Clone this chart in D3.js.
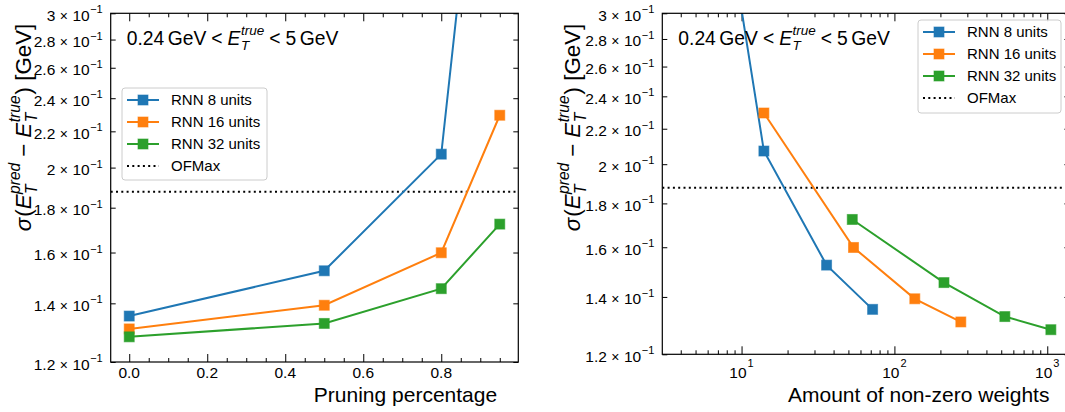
<!DOCTYPE html>
<html><head><meta charset="utf-8">
<script src="https://cdn.jsdelivr.net/npm/d3@7"></script>
<style>
body{margin:0;background:#fff;}
svg{display:block;}
text{font-family:"Liberation Sans",Arial,Helvetica,sans-serif;white-space:pre;}
</style>
</head><body>
<svg id="c" width="1065" height="412"></svg>
<script>
// ---- data ----
const pruning = [0.0, 0.5, 0.8, 0.95];
const sigma8  = [0.1354, 0.1525, 0.2072, 0.85];
const sigma16 = [0.1309, 0.1393, 0.1599, 0.2295];
const sigma32 = [0.1282, 0.1328, 0.1455, 0.1724];
const weights8  = [72, 36, 14, 4];
const weights16 = [272, 136, 54, 14];
const weights32 = [1056, 528, 211, 53];
const ofmax = 0.1877;
const seriesNames = ["RNN 8 units", "RNN 16 units", "RNN 32 units"];
const ofmaxName = "OFMax";
const colors = ["#1f77b4", "#ff7f0e", "#2ca02c"];
const yTickValues = [0.12, 0.14, 0.16, 0.18, 0.20, 0.22, 0.24, 0.26, 0.28, 0.30];
const yTickMantissa = ["1.2", "1.4", "1.6", "1.8", "2", "2.2", "2.4", "2.6", "2.8", "3"];
const xTicksLeft = [0.0, 0.2, 0.4, 0.6, 0.8];
const xTickLabelsLeft = ["0.0", "0.2", "0.4", "0.6", "0.8"];
const xTicksRight = [10, 100, 1000];
const xTickExpRight = ["1", "2", "3"];
const xLabelLeft = "Pruning percentage";
const xLabelRight = "Amount of non-zero weights";

const svg = d3.select("#c");
const FONT_TICK = 15.5, FONT_SUP = 11, FONT_LABEL = 21, FONT_YLAB = 22.3, FONT_LEG = 15, FONT_ANN = 19.3;

// one <text> element per formula; each piece a tspan with explicit x/y
function mathText(parent, pieces) {
  const g = parent.append("g");
  const txt = g.append("text").attr("fill", "#000");
  let cx = 0, stackStart = null, stackW = 0;
  pieces.forEach(p => {
    cx += (p.gb || 0);
    const el = txt.append("tspan")
      .attr("x", cx).attr("y", p.dy || 0)
      .attr("font-size", p.s)
      .attr("font-style", p.it ? "italic" : "normal")
      .text(p.t);
    const w = el.node().getComputedTextLength();
    if (p.stack) { stackStart = cx; stackW = w; }
    else if (stackStart !== null) { cx = stackStart + Math.max(stackW, w); stackStart = null; }
    else cx += w;
    cx += (p.ga || 0);
  });
  return {g, width: cx};
}

function yLabelPieces() {
  const S = FONT_YLAB, s2 = S * 0.7;
  return [
    {t: "σ", s: S, it: true},
    {t: "(", s: S, gb: 1},
    {t: "E", s: S, it: true},
    {t: "T", s: s2, it: true, dy: 5.5, stack: true, gb: 0.5},
    {t: "pred", s: s2, it: true, dy: -11.3},
    {t: "−", s: S, gb: 6, ga: 6},
    {t: "E", s: S, it: true},
    {t: "T", s: s2, it: true, dy: 5.5, stack: true, gb: 0.5},
    {t: "true", s: s2, it: true, dy: -11.3},
    {t: ")", s: S, gb: 1},
    {t: " [GeV]", s: S}
  ];
}
function annPieces() {
  const S = FONT_ANN, s2 = S * 0.7;
  return [
    {t: "0.24", s: S},
    {t: "GeV", s: S, gb: 3.5},
    {t: "<", s: S, gb: 5, ga: 5},
    {t: "E", s: S, it: true},
    {t: "T", s: s2, it: true, dy: 4.7, stack: true, gb: 0.5},
    {t: "true", s: s2, it: true, dy: -10.5},
    {t: "<", s: S, gb: 5, ga: 5},
    {t: "5", s: S},
    {t: "GeV", s: S, gb: 3.5}
  ];
}

function drawPanel(cfg) {
  const {x0, x1, y0, y1, xScale, xs, legend} = cfg;
  const y = d3.scaleLog().domain([0.12, 0.3]).range([y1, y0]);
  const g = svg.append("g");
  const clipId = "clip" + Math.round(x0);
  svg.append("clipPath").attr("id", clipId)
    .append("rect").attr("x", x0).attr("y", y0).attr("width", x1 - x0).attr("height", y1 - y0);

  const tickStyle = sel => { sel.select(".domain").remove(); sel.selectAll("line").attr("stroke", "#000").attr("stroke-width", 1); };
  g.append("g").attr("transform", `translate(${x0},0)`)
    .call(d3.axisLeft(y).tickValues(yTickValues).tickSize(-5).tickFormat("")).call(tickStyle);
  g.append("g").attr("transform", `translate(${x1},0)`)
    .call(d3.axisRight(y).tickValues(yTickValues).tickSize(-5).tickFormat("")).call(tickStyle);
  g.append("g").attr("transform", `translate(0,${y1})`)
    .call(d3.axisBottom(xScale).tickValues(cfg.xMajor).tickSize(-8).tickFormat("")).call(tickStyle);
  g.append("g").attr("transform", `translate(0,${y1})`)
    .call(d3.axisBottom(xScale).tickValues(cfg.xMinor).tickSize(-4).tickFormat("")).call(tickStyle);
  g.append("g").attr("transform", `translate(0,${y0})`)
    .call(d3.axisTop(xScale).tickValues(cfg.xMajor).tickSize(-8).tickFormat("")).call(tickStyle);
  g.append("g").attr("transform", `translate(0,${y0})`)
    .call(d3.axisTop(xScale).tickValues(cfg.xMinor).tickSize(-4).tickFormat("")).call(tickStyle);

  yTickValues.forEach((v, i) => {
    const m = mathText(g, [
      {t: yTickMantissa[i], s: FONT_TICK},
      {t: "×", s: FONT_TICK * 0.9, gb: 4.5, ga: 4.5},
      {t: "10", s: FONT_TICK},
      {t: "−1", s: FONT_SUP, dy: -7.5, gb: 0.5}
    ]);
    m.g.attr("transform", `translate(${x0 - 8 - m.width},${y(v) + 7.5})`);
  });

  const plot = g.append("g").attr("clip-path", `url(#${clipId})`);
  const line = d3.line().x(d => xScale(d[0])).y(d => y(d[1]));
  plot.append("line").attr("x1", x0).attr("x2", x1).attr("y1", y(ofmax)).attr("y2", y(ofmax))
    .attr("stroke", "#000").attr("stroke-width", 2).attr("stroke-dasharray", "2,3.3");
  xs.forEach((xv, k) => {
    const sv = [sigma8, sigma16, sigma32][k];
    const pts = xv.map((d, i) => [d, sv[i]]);
    plot.append("path").attr("d", line(pts)).attr("fill", "none")
      .attr("stroke", colors[k]).attr("stroke-width", 2);
    plot.selectAll(null).data(pts).enter().append("rect")
      .attr("x", d => xScale(d[0]) - 5).attr("y", d => y(d[1]) - 5)
      .attr("width", 10).attr("height", 10)
      .attr("fill", colors[k]).attr("stroke", colors[k]).attr("stroke-opacity", 0.6).attr("stroke-width", 1);
  });

  g.append("rect").attr("x", x0).attr("y", y0).attr("width", x1 - x0).attr("height", y1 - y0)
    .attr("fill", "none").attr("stroke", "#000").attr("stroke-width", 1.2);

  const ann = mathText(g, annPieces());
  ann.g.attr("transform", `translate(${cfg.annX},45)`);

  const yl = mathText(g, yLabelPieces());
  yl.g.attr("transform", `translate(${cfg.ylX},${cfg.ylY}) rotate(-90) translate(${-yl.width / 2},0)`);

  g.append("text").attr("x", cfg.xlX).attr("y", 402).attr("text-anchor", "middle")
    .attr("font-size", FONT_LABEL).attr("fill", "#000").text(cfg.xLabel);

  const L = legend;
  const lg = g.append("g");
  lg.append("rect").attr("x", L.x).attr("y", L.y).attr("width", L.w).attr("height", L.h)
    .attr("rx", 3).attr("fill", "#fff").attr("fill-opacity", 0.8)
    .attr("stroke", "#cccccc").attr("stroke-width", 1);
  const rows = seriesNames.concat([ofmaxName]);
  rows.forEach((name, i) => {
    const ry = L.y + 12 + i * 22;
    const lx0 = L.x + 5, lx1 = L.x + 37;
    if (i < 3) {
      lg.append("line").attr("x1", lx0).attr("x2", lx1).attr("y1", ry).attr("y2", ry)
        .attr("stroke", colors[i]).attr("stroke-width", 2);
      lg.append("rect").attr("x", (lx0 + lx1) / 2 - 5).attr("y", ry - 5).attr("width", 10).attr("height", 10)
        .attr("fill", colors[i]).attr("stroke", colors[i]).attr("stroke-opacity", 0.6);
    } else {
      lg.append("line").attr("x1", lx0).attr("x2", lx1).attr("y1", ry).attr("y2", ry)
        .attr("stroke", "#000").attr("stroke-width", 2).attr("stroke-dasharray", "2,3.3");
    }
    lg.append("text").attr("x", L.x + 49).attr("y", ry + 5.3).attr("font-size", FONT_LEG)
      .attr("fill", "#000").text(name);
  });
  return {y};
}

// left panel
const LX0 = 110.7, LX1 = 518.3;
const xLeft = d3.scaleLinear().domain([-0.0475, 0.9975]).range([LX0, LX1]);
drawPanel({
  x0: LX0, x1: LX1, y0: 13.3, y1: 362, xScale: xLeft,
  xs: [pruning, pruning, pruning],
  xMajor: xTicksLeft, xMinor: d3.range(0, 20).map(i => i * 0.05).filter(v => v <= 0.95 + 1e-9 && Math.abs(v * 5 - Math.round(v * 5)) > 1e-6),
  annX: 126.7, ylX: 31, ylY: 127.5, xlX: 405.5, xLabel: xLabelLeft,
  legend: {x: 122, y: 88, w: 145, h: 92}
});
xTicksLeft.forEach((v, i) => {
  svg.append("text").attr("x", xLeft(v)).attr("y", 378).attr("text-anchor", "middle")
    .attr("font-size", FONT_TICK).attr("fill", "#000").text(xTickLabelsLeft[i]);
});

// right panel
const RX0 = 662.3, RX1 = 1069.4;
const xRight = d3.scaleLog().domain([3.03, 1396]).range([RX0, RX1]);
const minorR = [];
[1, 10, 100].forEach(b => { for (let k = 2; k <= 9; k++) { const v = b * k; if (v > 3.03 && v < 1396) minorR.push(v); } });
drawPanel({
  x0: RX0, x1: RX1, y0: 13.3, y1: 354.3, xScale: xRight,
  xs: [weights8, weights16, weights32],
  xMajor: xTicksRight, xMinor: minorR,
  annX: 678.3, ylX: 580, ylY: 127.5, xlX: 918.7, xLabel: xLabelRight,
  legend: {x: 918, y: 20, w: 143, h: 93}
});
xTicksRight.forEach((v, i) => {
  const m = mathText(svg, [
    {t: "10", s: FONT_TICK},
    {t: xTickExpRight[i], s: FONT_SUP, dy: -11, gb: 1}
  ]);
  m.g.attr("transform", `translate(${xRight(v) - m.width / 2},377.5)`);
});
</script>
</body></html>
